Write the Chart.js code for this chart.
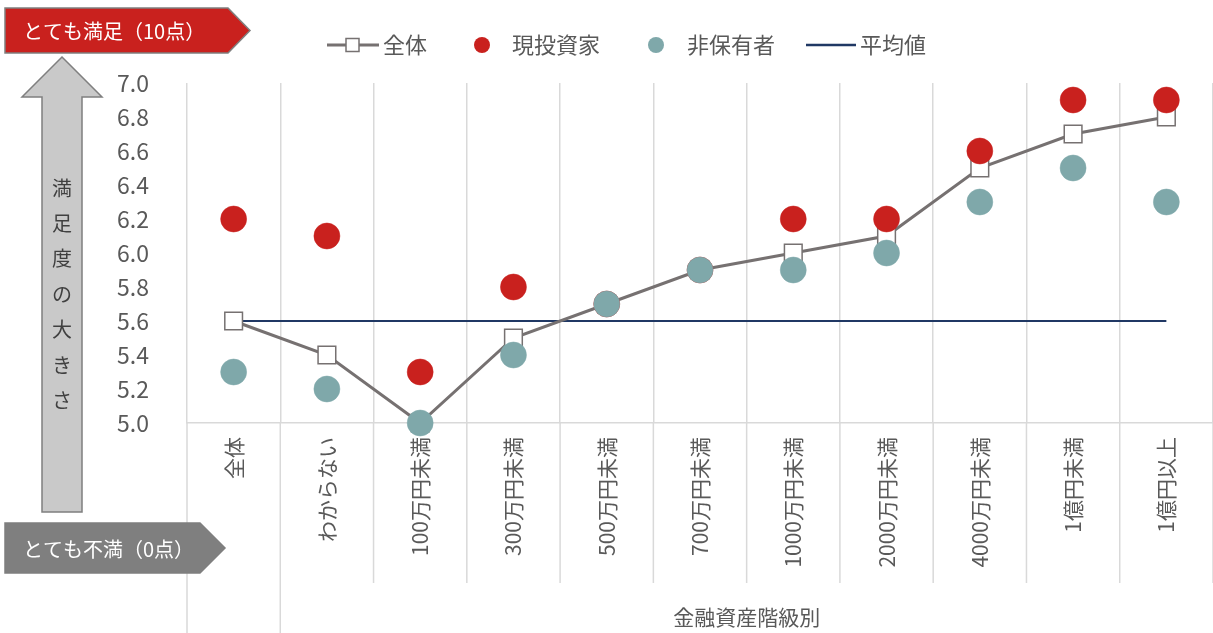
<!DOCTYPE html>
<html>
<head>
<meta charset="utf-8">
<script src="https://cdn.jsdelivr.net/npm/chart.js@4"></script>
<style>
html, body { margin: 0; padding: 0; background: #fff; }
#wrap { position: relative; width: 1213px; height: 633px; }
</style>
</head>
<body>
<div id="wrap"><canvas id="myChart"></canvas></div>
<script>
var categories = ['全体', 'わからない', '100万円未満', '300万円未満', '500万円未満', '700万円未満',
  '1000万円未満', '2000万円未満', '4000万円未満', '1億円未満', '1億円以上'];
var zentai = [5.6, 5.4, 5.0, 5.5, 5.7, 5.9, 6.0, 6.1, 6.5, 6.7, 6.8];
var toushika = [6.2, 6.1, 5.3, 5.8, 5.7, 5.9, 6.2, 6.2, 6.6, 6.9, 6.9];
var hihoyu = [5.3, 5.2, 5.0, 5.4, 5.7, 5.9, 5.9, 6.0, 6.3, 6.5, 6.3];
var heikin = [5.6, 5.6, 5.6, 5.6, 5.6, 5.6, 5.6, 5.6, 5.6, 5.6, 5.6];
var yMin = 5.0;
var yMax = 7.0;
var yStep = 0.2;

var FONT = "'Noto Sans CJK JP', 'Noto Sans', sans-serif";
var GRAY_TEXT = '#595959';
var LINE_GRAY = '#767171';
var RED = '#c9211e';
var TEAL = '#7fa8aa';
var NAVY = '#203864';
var GRID = '#d9d9d9';

Chart.defaults.font.family = FONT;

function drawTag(ctx, x, y, w, h, tip, fill, text, size) {
  ctx.save();
  ctx.beginPath();
  ctx.moveTo(x, y);
  ctx.lineTo(x + w, y);
  ctx.lineTo(x + w + tip, y + h / 2);
  ctx.lineTo(x + w, y + h);
  ctx.lineTo(x, y + h);
  ctx.closePath();
  ctx.fillStyle = fill;
  ctx.fill();
  ctx.lineWidth = 1.5;
  ctx.strokeStyle = '#7f7f7f';
  ctx.stroke();
  ctx.fillStyle = '#fff';
  ctx.font = size + 'px ' + FONT;
  ctx.textBaseline = 'middle';
  ctx.textAlign = 'left';
  ctx.fillText(text, x + 18, y + h / 2 + 1);
  ctx.restore();
}

function drawArrow(ctx) {
  ctx.save();
  ctx.beginPath();
  ctx.moveTo(62, 57);
  ctx.lineTo(102, 97);
  ctx.lineTo(82, 97);
  ctx.lineTo(82, 512);
  ctx.lineTo(42, 512);
  ctx.lineTo(42, 97);
  ctx.lineTo(22, 97);
  ctx.closePath();
  ctx.fillStyle = '#c9c9c9';
  ctx.fill();
  ctx.lineWidth = 1.5;
  ctx.strokeStyle = '#7f7f7f';
  ctx.stroke();
  var label = '満足度の大きさ';
  ctx.fillStyle = '#404040';
  ctx.font = '20px ' + FONT;
  ctx.textAlign = 'center';
  ctx.textBaseline = 'middle';
  for (var i = 0; i < label.length; i++) {
    ctx.fillText(label[i], 62, 188 + i * 35.4);
  }
  ctx.restore();
}

function drawLegend(ctx) {
  var y = 45;
  ctx.save();
  ctx.font = '22px ' + FONT;
  ctx.fillStyle = GRAY_TEXT;
  ctx.textBaseline = 'middle';
  ctx.textAlign = 'left';

  // 全体: line with square marker
  ctx.strokeStyle = LINE_GRAY;
  ctx.lineWidth = 3;
  ctx.beginPath();
  ctx.moveTo(327, y);
  ctx.lineTo(379, y);
  ctx.stroke();
  ctx.fillStyle = '#fff';
  ctx.lineWidth = 1.5;
  ctx.fillRect(346, y - 6.5, 13, 13);
  ctx.strokeRect(346, y - 6.5, 13, 13);
  ctx.fillStyle = GRAY_TEXT;
  ctx.fillText('全体', 383, y);

  ctx.fillStyle = RED;
  ctx.beginPath();
  ctx.arc(482, y, 8, 0, Math.PI * 2);
  ctx.fill();
  ctx.fillStyle = GRAY_TEXT;
  ctx.fillText('現投資家', 512, y);

  ctx.fillStyle = TEAL;
  ctx.beginPath();
  ctx.arc(656, y, 8, 0, Math.PI * 2);
  ctx.fill();
  ctx.fillStyle = GRAY_TEXT;
  ctx.fillText('非保有者', 687, y);

  ctx.strokeStyle = NAVY;
  ctx.lineWidth = 2.5;
  ctx.beginPath();
  ctx.moveTo(806, y);
  ctx.lineTo(856, y);
  ctx.stroke();
  ctx.fillText('平均値', 860, y);
  ctx.restore();
}

var decorations = {
  id: 'decorations',
  beforeDatasetsDraw: function (chart) {
    var ctx = chart.ctx;
    var xs = chart.scales.x;
    var half = (xs.getPixelForValue(1) - xs.getPixelForValue(0)) / 2;
    ctx.save();
    ctx.strokeStyle = GRID;
    ctx.lineWidth = 1.5;
    for (var i = 0; i <= categories.length; i++) {
      var px = xs.getPixelForValue(i) - half;
      ctx.beginPath();
      ctx.moveTo(px, chart.chartArea.bottom);
      ctx.lineTo(px, i < 2 ? chart.height : 583);
      ctx.stroke();
    }
    ctx.restore();
  },
  afterDraw: function (chart) {
    var ctx = chart.ctx;
    var xs = chart.scales.x;
    drawArrow(ctx);
    drawTag(ctx, 5, 8, 223, 45, 22, RED, 'とても満足（10点）', 20);
    drawTag(ctx, 5, 523, 195, 50, 25, '#7f7f7f', 'とても不満（0点）', 20);
    drawLegend(ctx);
    // axis title centered under the asset classes
    var half = (xs.getPixelForValue(1) - xs.getPixelForValue(0)) / 2;
    var cx = (xs.getPixelForValue(1) - half + xs.right) / 2;
    ctx.save();
    ctx.font = '21px ' + FONT;
    ctx.fillStyle = GRAY_TEXT;
    ctx.textAlign = 'center';
    ctx.textBaseline = 'middle';
    ctx.fillText('金融資産階級別', cx, 617);
    ctx.restore();
  }
};

var ctx = document.getElementById('myChart').getContext('2d');
window.myChart = new Chart(ctx, {
  type: 'line',
  data: {
    labels: categories,
    datasets: [{
      label: '全体',
      data: zentai,
      borderColor: LINE_GRAY,
      borderWidth: 3,
      pointStyle: 'rect',
      pointRadius: 12.5,
      pointBackgroundColor: '#fff',
      pointBorderColor: LINE_GRAY,
      pointBorderWidth: 1.5,
      order: 3
    }, {
      label: '現投資家',
      data: toushika,
      showLine: false,
      pointRadius: 13,
      pointBackgroundColor: RED,
      pointBorderColor: RED,
      pointBorderWidth: 0.5,
      order: 2
    }, {
      label: '非保有者',
      data: hihoyu,
      showLine: false,
      pointRadius: 13,
      pointBackgroundColor: TEAL,
      pointBorderColor: TEAL,
      pointBorderWidth: 0.5,
      order: 1
    }, {
      label: '平均値',
      data: heikin,
      borderColor: NAVY,
      borderWidth: 2,
      pointRadius: 0,
      order: 4
    }]
  },
  options: {
    responsive: true,
    maintainAspectRatio: false,
    animation: false,
    events: [],
    clip: false,
    layout: { autoPadding: false, padding: { top: 83, left: 0, right: 0, bottom: 0 } },
    plugins: {
      legend: { display: false },
      tooltip: { enabled: false }
    },
    scales: {
      x: {
        offset: true,
        grid: { offset: true, color: GRID, lineWidth: 1.5, drawTicks: false },
        border: { display: true, color: GRID, width: 1.5 },
        ticks: {
          color: GRAY_TEXT,
          font: { size: 21 },
          maxRotation: 90,
          minRotation: 90,
          padding: 14,
          autoSkip: false
        },
        afterFit: function (scale) {
          scale.height = 210;
          scale.paddingLeft = 0;
          scale.paddingRight = 0;
        }
      },
      y: {
        min: yMin,
        max: yMax,
        grid: { display: false },
        border: { display: false },
        ticks: {
          stepSize: yStep,
          color: GRAY_TEXT,
          font: { size: 23 },
          padding: 30,
          callback: function (v) { return v.toFixed(1); }
        },
        afterFit: function (scale) {
          scale.width = 187;
          scale.paddingTop = 0;
          scale.paddingBottom = 0;
        }
      }
    }
  },
  plugins: [decorations]
});
</script>
</body>
</html>
